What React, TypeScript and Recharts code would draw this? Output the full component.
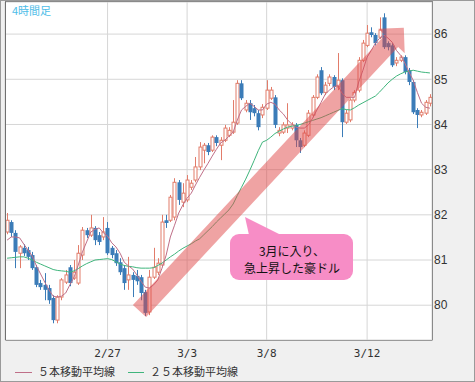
import { ComposedChart, Bar, Line, XAxis, YAxis, CartesianGrid } from 'recharts';

// 4時間足 candles
const opens = [
  81.62, 81.84, 81.6, 81.15, 81.27, 81.22, 81.11, 80.84, 80.49, 80.45,
  80.38, 80.16, 79.67, 80.18, 80.51, 80.84, 80.6, 80.49, 81.11, 81.66,
  81.55, 81.71, 81.55, 81.51, 81.71, 81.27, 81.15, 80.95, 80.82, 80.56,
  80.67, 80.65, 80.62, 80.29, 79.85, 80.62, 80.73, 80.89, 81.88, 81.88,
  81.95, 82.72, 82.28, 82.33, 82.61, 82.77, 83.06, 83.43, 83.54, 83.43,
  83.72, 83.54, 83.65, 83.76, 83.83, 84.03, 84.91, 84.32, 84.47, 84.36,
  84.25, 84.21, 84.36, 84.58, 84.6, 83.81, 83.83, 83.92, 83.92, 83.99,
  83.65, 83.54, 83.76, 84.21, 84.6, 85.2, 84.71, 84.91, 85.05, 84.83,
  84.98, 84.05, 84.1, 84.54, 84.76, 85.42, 85.75, 86.04, 85.98, 85.93,
  86.37, 85.8, 85.75, 85.36, 85.42, 85.49, 85.2, 84.94, 84.32, 84.21,
  84.25, 84.47,
];
const highs = [
  82.04, 81.88, 81.66, 81.33, 81.35, 81.29, 81.18, 80.89, 80.56, 80.71,
  80.45, 80.22, 80.22, 80.6, 80.78, 80.89, 81.0, 81.33, 81.73, 81.71,
  82.0, 81.75, 81.62, 81.95, 81.84, 81.31, 81.22, 81.04, 80.89, 81.07,
  80.73, 80.78, 80.67, 80.34, 80.78, 81.27, 81.04, 82.0, 82.0, 82.44,
  82.81, 82.77, 82.7, 82.88, 82.77, 83.28, 83.61, 83.59, 83.59, 83.76,
  83.76, 83.72, 83.99, 83.94, 84.54, 84.98, 84.98, 84.54, 84.54, 84.43,
  84.32, 84.45, 84.98, 84.83, 84.65, 83.94, 84.05, 84.47, 84.05, 84.03,
  83.7, 83.87, 84.32, 84.65, 85.11, 85.27, 84.94, 85.11, 85.09, 85.58,
  85.02, 84.32, 84.58, 84.76, 85.49, 85.87, 86.2, 86.15, 86.02, 86.37,
  86.46, 85.84, 85.8, 85.49, 85.53, 85.53, 85.25, 84.98, 84.36, 84.32,
  84.54, 84.67,
];
const lows = [
  81.57, 81.51, 80.82, 80.82, 81.09, 81.0, 80.78, 80.4, 80.34, 80.11,
  80.03, 79.6, 79.6, 80.11, 80.47, 80.42, 80.56, 80.45, 81.0, 81.49,
  81.51, 81.33, 81.33, 81.44, 81.11, 81.04, 80.87, 80.67, 80.34, 80.34,
  80.18, 80.45, 80.11, 79.76, 79.78, 80.58, 80.67, 80.84, 81.71, 81.84,
  81.88, 82.22, 82.17, 82.28, 82.55, 82.72, 82.99, 83.14, 83.32, 83.39,
  83.52, 83.21, 83.61, 83.72, 83.79, 83.99, 84.54, 84.27, 84.1, 84.18,
  83.87, 84.14, 84.32, 84.54, 83.92, 83.74, 83.79, 83.81, 83.87, 83.5,
  83.37, 83.5, 83.72, 84.16, 84.56, 84.65, 84.65, 84.85, 84.76, 84.76,
  83.72, 84.01, 84.05, 84.49, 84.71, 85.38, 85.71, 85.93, 85.75, 85.89,
  85.67, 85.64, 85.27, 85.29, 85.38, 85.11, 84.87, 84.23, 83.92, 84.16,
  84.21, 84.4,
];
const closes = [
  81.88, 81.6, 81.18, 81.29, 81.15, 81.07, 80.82, 80.45, 80.4, 80.34,
  80.11, 79.67, 80.18, 80.56, 80.67, 80.49, 80.73, 81.15, 81.66, 81.55,
  81.71, 81.44, 81.4, 81.62, 81.15, 81.11, 80.93, 80.73, 80.49, 80.67,
  80.56, 80.53, 80.27, 79.83, 80.62, 80.84, 80.93, 81.84, 81.82, 82.39,
  82.72, 82.33, 82.48, 82.77, 82.7, 83.06, 83.5, 83.54, 83.39, 83.72,
  83.59, 83.65, 83.92, 83.87, 84.05, 84.91, 84.58, 84.47, 84.27, 84.25,
  83.94, 84.38, 84.76, 84.76, 83.99, 83.87, 83.99, 83.99, 83.99, 83.65,
  83.5, 83.81, 84.25, 84.6, 85.05, 84.69, 84.87, 85.05, 84.83, 84.98,
  84.05, 84.25, 84.54, 84.71, 85.42, 85.8, 86.02, 85.98, 85.8, 86.09,
  85.71, 85.71, 85.31, 85.42, 85.49, 85.16, 84.94, 84.27, 84.21, 84.27,
  84.49, 84.6,
];
// ５本移動平均線
const ma5 = [
  81.44, 81.51, 81.51, 81.49, 81.35, 81.22, 81.09, 80.87, 80.69, 80.51,
  80.34, 80.2, 80.18, 80.2, 80.27, 80.45, 80.62, 80.89, 81.18, 81.4,
  81.62, 81.68, 81.71, 81.6, 81.53, 81.38, 81.29, 81.15, 80.95, 80.87,
  80.8, 80.67, 80.53, 80.4, 80.38, 80.45, 80.56, 80.82, 81.11, 81.51,
  81.77, 82.04, 82.22, 82.37, 82.48, 82.66, 82.83, 82.99, 83.14, 83.3,
  83.45, 83.59, 83.65, 83.74, 83.83, 84.1, 84.32, 84.4, 84.47, 84.4,
  84.32, 84.32, 84.45, 84.49, 84.45, 84.32, 84.23, 84.1, 84.01, 83.94,
  83.92, 83.92, 83.99, 84.14, 84.32, 84.49, 84.67, 84.76, 84.83, 84.87,
  84.69, 84.6, 84.6, 84.6, 84.94, 85.2, 85.49, 85.64, 85.8, 85.91,
  85.98, 85.91, 85.82, 85.64, 85.53, 85.36, 85.16, 84.98, 84.71, 84.47,
  84.38, 84.36,
];
// ２５本移動平均線
const ma25 = [
  81.04, 81.05, 81.06, 81.07, 81.07, 81.04, 81.0, 80.95, 80.91, 80.87,
  80.83, 80.79, 80.77, 80.76, 80.75, 80.73, 80.76, 80.81, 80.87, 80.92,
  80.96, 81.0, 81.01, 81.02, 81.03, 81.01, 80.96, 80.91, 80.88, 80.86,
  80.85, 80.83, 80.82, 80.82, 80.82, 80.83, 80.88, 80.93, 81.0, 81.07,
  81.13, 81.2, 81.26, 81.31, 81.36, 81.42, 81.47, 81.56, 81.65, 81.74,
  81.84, 81.93, 82.02, 82.11, 82.24, 82.43, 82.61, 82.79, 82.99, 83.2,
  83.42, 83.61, 83.65, 83.72, 83.8, 83.85, 83.9, 83.94, 83.96, 83.98,
  84.0, 84.03, 84.06, 84.09, 84.12, 84.15, 84.19, 84.23, 84.27, 84.31,
  84.35, 84.33, 84.32, 84.37, 84.43, 84.48, 84.53, 84.58, 84.63, 84.72,
  84.82, 84.92, 85.0, 85.07, 85.12, 85.16, 85.18, 85.2, 85.18, 85.16,
  85.15, 85.14,
];
const dateTicks = [24, 43, 62, 86];
const dateLabels = ['2/27', '3/3', '3/8', '3/12'];
const priceTicks = [80, 81, 82, 83, 84, 85, 86];

const UP = '#e27c6a';
const DOWN = '#3b7cb8';
const MA5_COLOR = '#bf6f88';
const MA25_COLOR = '#3fb57c';

const data = opens.map((o, i) => ({
  i,
  range: [lows[i], highs[i]],
  open: o,
  high: highs[i],
  low: lows[i],
  close: closes[i],
  ma5: ma5[i],
  ma25: ma25[i],
}));

const Candle = (props: any) => {
  const { x, y, width, height, payload } = props;
  const { open, close, high, low } = payload;
  const up = close >= open;
  const color = up ? UP : DOWN;
  const cx = Math.round(x + width / 2) + 0.5;
  const top0 = Math.min(y, y + height);
  const h = Math.abs(height);
  const k = high === low ? 0 : h / (high - low);
  const yOf = (v: number) => top0 + (high - v) * k;
  const bTop = yOf(Math.max(open, close));
  const bBot = yOf(Math.min(open, close));
  const bh = Math.max(bBot - bTop, 1);
  return (
    <g>
      <line x1={cx} x2={cx} y1={top0} y2={top0 + h} stroke={color} strokeWidth={1} />
      {up ? (
        <rect x={cx - 1.5} y={bTop} width={3} height={bh} fill="#fff" stroke={color} strokeWidth={1} />
      ) : (
        <rect x={cx - 2} y={bTop} width={4} height={bh} fill={color} />
      )}
    </g>
  );
};

const cjk = '"Noto Sans CJK JP", "Noto Sans", sans-serif';

export default function App() {
  return (
    <div style={{ position: 'absolute', left: 0, top: 0, width: 475, height: 382, background: '#f0f0f0' }}>
      <ComposedChart width={475} height={382} data={data} margin={{ top: 2, right: 0, left: 5, bottom: 0 }}>
        <CartesianGrid fill="#fff" stroke="#d6d6d6" />
        <XAxis
          dataKey="i"
          ticks={dateTicks}
          interval={0}
          tickFormatter={(v) => dateLabels[dateTicks.indexOf(v)]}
          tickLine={false}
          axisLine={false}
          height={42}
          tickMargin={3}
          tick={{ fill: '#333', fontSize: 11, fontFamily: '"DejaVu Sans Mono", monospace' }}
        />
        <YAxis
          orientation="right"
          domain={[79.23, 86.71]}
          ticks={priceTicks}
          allowDataOverflow
          tickLine={false}
          axisLine={false}
          tickSize={0}
          tickMargin={2}
          width={43}
          tick={{ fill: '#333', fontSize: 12, fontFamily: '"Liberation Sans", Arial, sans-serif', textAnchor: 'start' }}
        />
        <Line dataKey="ma25" stroke={MA25_COLOR} strokeWidth={1} dot={false} isAnimationActive={false} />
        <Bar dataKey="range" barSize={4} shape={Candle} isAnimationActive={false} />
        <Line dataKey="ma5" stroke={MA5_COLOR} strokeWidth={1} dot={false} isAnimationActive={false} />
      </ComposedChart>
      <svg width={475} height={382} style={{ position: 'absolute', left: 0, top: 0, pointerEvents: 'none' }}>
        <rect x={0.5} y={0.5} width={474} height={381} fill="none" stroke="#9a9a9a" />
        <line x1={5.5} x2={5.5} y1={1} y2={340} stroke="#707070" />
        <line x1={5.5} x2={432.5} y1={1.5} y2={1.5} stroke="#8a8a8a" />
        <line x1={432.5} x2={432.5} y1={1} y2={340} stroke="#8a8a8a" />
        <line x1={5.5} x2={432.5} y1={340.5} y2={340.5} stroke="#9a9a9a" />
        <text x={12} y={15} fontSize={11} fill="#4dbde8" fontFamily={cjk}>4時間足</text>
        <polygon
          points="132.9,304.9 384.9,34.9 378.3,28.7 403.8,27.8 404.7,53.3 398.1,47.1 146.1,317.1"
          fill="#e04848"
          fillOpacity={0.5}
        />
        <polygon points="249,235 245,217 281,235" fill="#f78dc6" />
        <rect x={230} y={234} width={123} height={46} rx={9} fill="#f78dc6" />
        <text x={292} y={256} fontSize={12} fill="#111" textAnchor="middle" fontFamily={cjk}>3月に入り、</text>
        <text x={292} y={273} fontSize={12} fill="#111" textAnchor="middle" fontFamily={cjk}>急上昇した豪ドル</text>
        <line x1={15} x2={32} y1={372.5} y2={372.5} stroke={MA5_COLOR} />
        <text x={38} y={376} fontSize={11} fill="#333" fontFamily={cjk}>５本移動平均線</text>
        <line x1={128} x2={144} y1={372.5} y2={372.5} stroke={MA25_COLOR} />
        <text x={150} y={376} fontSize={11} fill="#333" fontFamily={cjk}>２５本移動平均線</text>
      </svg>
    </div>
  );
}
